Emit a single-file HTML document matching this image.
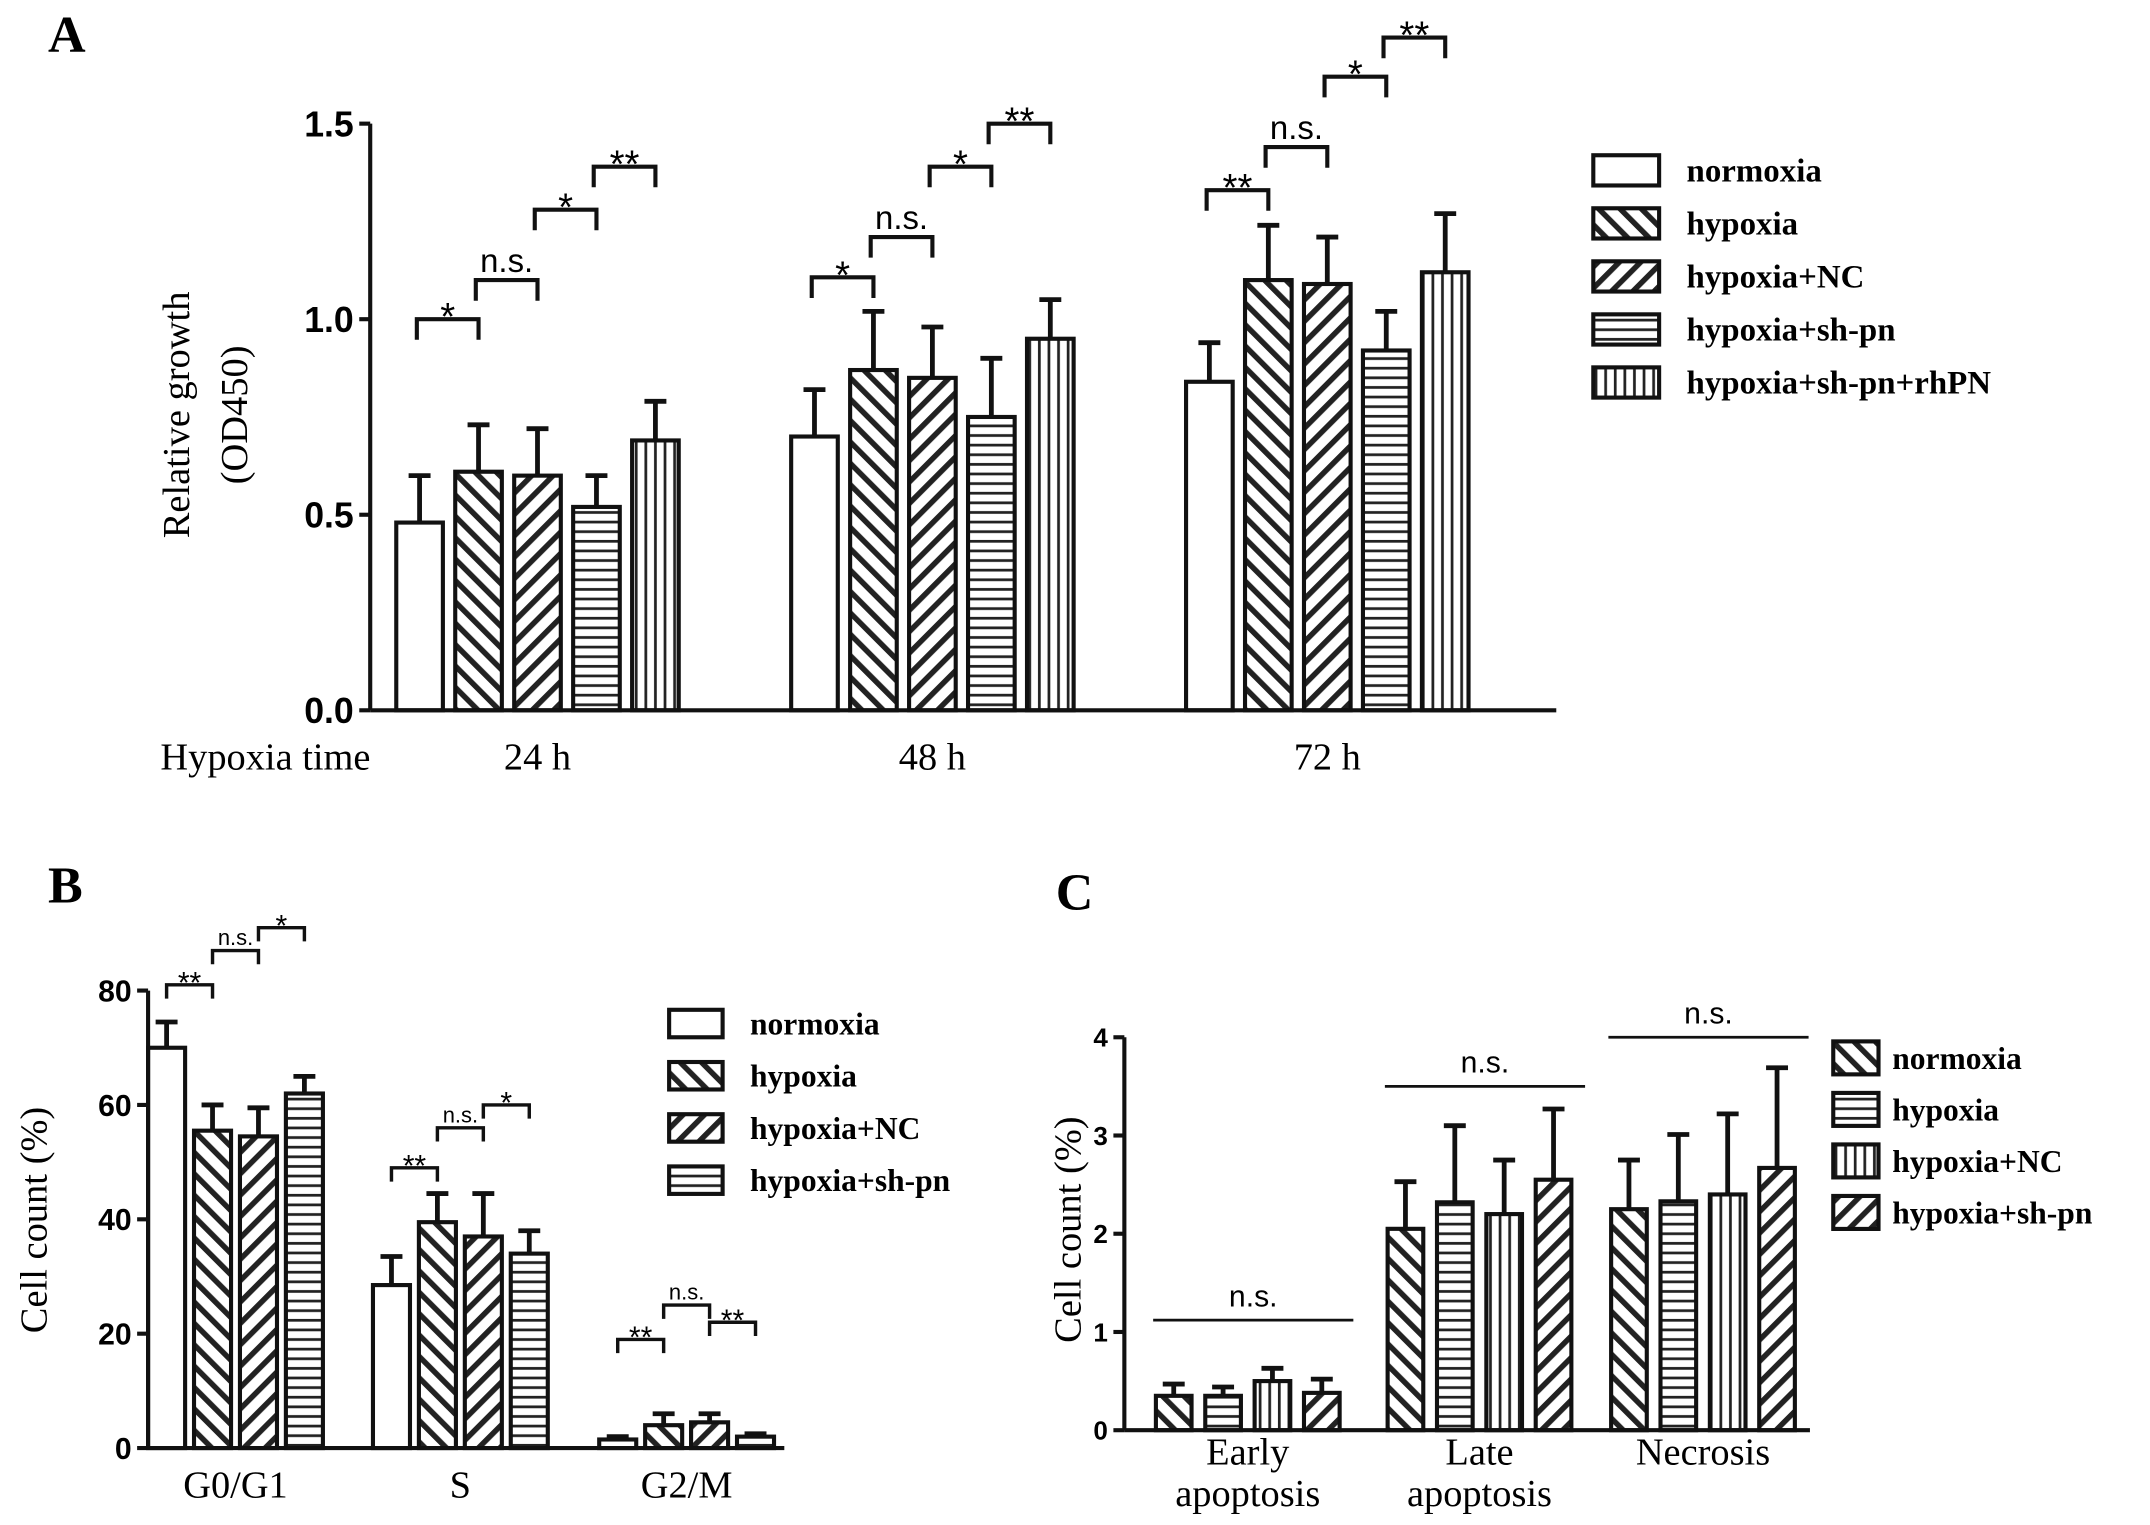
<!DOCTYPE html>
<html><head><meta charset="utf-8"><style>
html,body{margin:0;padding:0;background:#fff}
svg{display:block}
</style></head><body>
<svg id="fig" width="2150" height="1525" viewBox="0 0 1568 1110" preserveAspectRatio="none" xmlns="http://www.w3.org/2000/svg">
<defs>
<pattern id="pBack" patternUnits="userSpaceOnUse" width="11" height="11" patternTransform="rotate(-45)"><rect width="11" height="11" fill="#fff"/><line x1="2" y1="0" x2="2" y2="11" stroke="#222" stroke-width="4"/></pattern>
<pattern id="pFwd" patternUnits="userSpaceOnUse" width="11" height="11" patternTransform="rotate(45)"><rect width="11" height="11" fill="#fff"/><line x1="2" y1="0" x2="2" y2="11" stroke="#222" stroke-width="4"/></pattern>
<pattern id="pHor" patternUnits="userSpaceOnUse" width="8" height="7"><rect width="8" height="7" fill="#fff"/><line x1="0" y1="2" x2="8" y2="2" stroke="#222" stroke-width="2"/></pattern>
<pattern id="pVer" patternUnits="userSpaceOnUse" width="7" height="8"><rect width="7" height="8" fill="#fff"/><line x1="2" y1="0" x2="2" y2="8" stroke="#222" stroke-width="2"/></pattern>
</defs>
<g id="root"></g>
</svg>
<script>
// Panel A data
const aGroups = ["24 h","48 h","72 h"];
const aSeries = ["normoxia","hypoxia","hypoxia+NC","hypoxia+sh-pn","hypoxia+sh-pn+rhPN"];
const aMeans = [[0.48,0.61,0.60,0.52,0.69],[0.70,0.87,0.85,0.75,0.95],[0.84,1.10,1.09,0.92,1.12]];
const aErrTop = [[0.60,0.73,0.72,0.60,0.79],[0.82,1.02,0.98,0.90,1.05],[0.94,1.24,1.21,1.02,1.27]];
const aTicks = [0,0.5,1.0,1.5];
const aSig = [["*","n.s.","*","**"],["*","n.s.","*","**"],["**","n.s.","*","**"]];
const aSigLevel = [[1.00,1.10,1.28,1.39],[1.107,1.21,1.39,1.50],[1.33,1.44,1.62,1.72]];
// Panel B data
const bGroups = ["G0/G1","S","G2/M"];
const bSeries = ["normoxia","hypoxia","hypoxia+NC","hypoxia+sh-pn"];
const bMeans = [[70,55.5,54.5,62],[28.5,39.5,37,34],[1.5,4,4.5,2]];
const bErrTop = [[74.5,60,59.5,65],[33.5,44.5,44.5,38],[2,6,6,2.5]];
const bTicks = [0,20,40,60,80];
const bSig = [["**","n.s.","*"],["**","n.s.","*"],["**","n.s.","**"]];
const bSigLevel = [[81,87,91],[49,56,60],[19,25,22]];
// Panel C data
const cGroups = [["Early","apoptosis"],["Late","apoptosis"],["Necrosis"]];
const cSeries = ["normoxia","hypoxia","hypoxia+NC","hypoxia+sh-pn"];
const cMeans = [[0.35,0.35,0.50,0.38],[2.05,2.32,2.20,2.55],[2.25,2.33,2.40,2.67]];
const cErrTop = [[0.47,0.44,0.63,0.52],[2.53,3.10,2.75,3.27],[2.75,3.01,3.22,3.69]];
const cTicks = [0,1,2,3,4];
const cSigLevel = [1.12,3.5,4.0];

const NS="http://www.w3.org/2000/svg";
const root=document.getElementById('root');
function el(tag,attrs,parent){const e=document.createElementNS(NS,tag);for(const k in attrs)e.setAttribute(k,attrs[k]);(parent||root).appendChild(e);return e;}
function txt(s,attrs,parent){const t=el('text',attrs,parent);t.textContent=s;return t;}
const serif='"Liberation Serif", serif', sans='"Liberation Sans", sans-serif';
const fills={A:["#fff","url(#pBack)","url(#pFwd)","url(#pHor)","url(#pVer)"],B:["#fff","url(#pBack)","url(#pFwd)","url(#pHor)"],C:["url(#pBack)","url(#pHor)","url(#pVer)","url(#pFwd)"]};

function panel(cfg){
  const g=el('g',{});
  
  
  const y=v=>cfg.y0-(v/cfg.tmax)*(cfg.y0-cfg.ytop);
  cfg.means.forEach((grp,gi)=>{
    grp.forEach((v,si)=>{
      const x=cfg.gx[gi]+si*cfg.step;
      const cx=x+cfg.bw/2;
      const e=el('line',{x1:cx,x2:cx,y1:y(v),y2:y(cfg.err[gi][si]),stroke:'#111','stroke-width':3.5},g);
      
      
      const c=el('line',{x1:cx-8,x2:cx+8,y1:y(cfg.err[gi][si]),y2:y(cfg.err[gi][si]),stroke:'#111','stroke-width':3.5},g);
      
      
      const r=el('rect',{x:x,y:y(v),width:cfg.bw,height:cfg.y0-y(v),fill:cfg.fills[si],stroke:'#111','stroke-width':3},g);
      
      
    });
  });
  const ya=el('line',{x1:cfg.x0,x2:cfg.x0,y1:cfg.ytop,y2:cfg.y0,stroke:'#111','stroke-width':3},g);
  
  
  const xa=el('line',{x1:cfg.x0,x2:cfg.xend,y1:cfg.y0,y2:cfg.y0,stroke:'#111','stroke-width':3},g);
  
  
  cfg.ticks.forEach(t=>{
    el('line',{x1:cfg.x0-8,x2:cfg.x0,y1:y(t),y2:y(t),stroke:'#111','stroke-width':3},g);
    const tl=txt(cfg.tfmt(t),{x:cfg.x0-12,y:y(t)+cfg.tfs*0.36,'text-anchor':'end','font-family':sans,'font-weight':'bold','font-size':cfg.tfs},g);
    
    
  });
  return {g,y};
}

// Panel A
(function(){
  const cfg={name:'panel-a',x0:270,xend:1135,y0:517,ytop:90,tmax:1.5,gx:[289,577,865],step:43,bw:34,fills:fills.A,means:aMeans,err:aErrTop,ticks:aTicks,tfs:26,tfmt:t=>t.toFixed(1)};
  const {g,y}=panel(cfg);
  aSig.forEach((row,gi)=>row.forEach((s,k)=>{
    const x1=cfg.gx[gi]+k*cfg.step+cfg.bw/2-2, x2=x1+cfg.step+2, yy=y(aSigLevel[gi][k]);
    const b=el('path',{d:`M${x1} ${yy+15}V${yy}H${x2}V${yy+15}`,fill:'none',stroke:'#111','stroke-width':3},g);
    
    
    const isNs=s==='n.s.';
    txt(s,{x:(x1+x2)/2,y:isNs?yy-6:yy+8,'text-anchor':'middle','font-family':sans,'font-size':isNs?24:28},g);
  }));
  aGroups.forEach((s,gi)=>{const t=txt(s,{x:cfg.gx[gi]+2*cfg.step+cfg.bw/2,y:560,'text-anchor':'middle','font-family':serif,'font-size':28},g);});
  txt('Hypoxia time',{x:117,y:560,'font-family':serif,'font-size':28},g);
  const yl=txt('Relative growth',{x:0,y:0,'text-anchor':'middle','font-family':serif,'font-size':28,transform:'translate(138,302) rotate(-90)'},g);
  
  txt('(OD450)',{x:0,y:0,'text-anchor':'middle','font-family':serif,'font-size':28,transform:'translate(180,302) rotate(-90)'},g);
  txt('A',{x:35,y:38,'font-family':serif,'font-weight':'bold','font-size':38},g);
  aSeries.forEach((s,i)=>{
    const yy=124+i*38.6;
    const r=el('rect',{x:1162,y:yy-11,width:48,height:22,fill:fills.A[i],stroke:'#111','stroke-width':3},g);
    
    const t=txt(s,{x:1230,y:yy+8,'font-family':serif,'font-weight':'bold','font-size':24},g);
    
  });
})();

// Panel B
(function(){
  const cfg={name:'panel-b',x0:108,xend:572,y0:1054,ytop:721,tmax:80,gx:[108,272,437],step:33.5,bw:27,fills:fills.B,means:bMeans,err:bErrTop,ticks:bTicks,tfs:22,tfmt:t=>String(t)};
  const {g,y}=panel(cfg);
  bSig.forEach((row,gi)=>row.forEach((s,k)=>{
    const x1=cfg.gx[gi]+k*cfg.step+cfg.bw/2, x2=x1+cfg.step, yy=y(bSigLevel[gi][k]);
    el('path',{d:`M${x1} ${yy+10}V${yy}H${x2}V${yy+10}`,fill:'none',stroke:'#111','stroke-width':2.5},g);
    const isNs=s==='n.s.';
    txt(s,{x:(x1+x2)/2,y:isNs?yy-4:yy+6,'text-anchor':'middle','font-family':sans,'font-size':isNs?16:22},g);
  }));
  bGroups.forEach((s,gi)=>{const t=txt(s,{x:cfg.gx[gi]+1.5*cfg.step+cfg.bw/2,y:1090,'text-anchor':'middle','font-family':serif,'font-size':28},g);});
  const yl=txt('Cell count (%)',{x:0,y:0,'text-anchor':'middle','font-family':serif,'font-size':28,transform:'translate(34,888) rotate(-90)'},g);
  
  txt('B',{x:35,y:657,'font-family':serif,'font-weight':'bold','font-size':38},g);
  bSeries.forEach((s,i)=>{
    const yy=745+i*38;
    const r=el('rect',{x:488,y:yy-10,width:39,height:20,fill:fills.B[i],stroke:'#111','stroke-width':3},g);
    
    const t=txt(s,{x:547,y:yy+8,'font-family':serif,'font-weight':'bold','font-size':23},g);
    
  });
})();

// Panel C
(function(){
  const cfg={name:'panel-c',x0:820,xend:1320,y0:1041,ytop:755,tmax:4,gx:[843,1012,1175],step:36,bw:26,fills:fills.C,means:cMeans,err:cErrTop,ticks:cTicks,tfs:19,tfmt:t=>String(t)};
  const {g,y}=panel(cfg);
  cGroups.forEach((lines,gi)=>{
    const x1=cfg.gx[gi]-2, x2=cfg.gx[gi]+3*cfg.step+cfg.bw+10, yy=y(cSigLevel[gi]);
    el('line',{x1:x1,x2:x2,y1:yy,y2:yy,stroke:'#111','stroke-width':2},g);
    txt('n.s.',{x:(x1+x2)/2,y:yy-10,'text-anchor':'middle','font-family':sans,'font-size':22},g);
    const cx=cfg.gx[gi]+1.5*cfg.step+cfg.bw/2;
    lines.forEach((s,li)=>{const t=txt(s,{x:cx,y:1066+li*30,'text-anchor':'middle','font-family':serif,'font-size':28},g);});
  });
  const yl=txt('Cell count (%)',{x:0,y:0,'text-anchor':'middle','font-family':serif,'font-size':28,transform:'translate(788,895) rotate(-90)'},g);
  
  txt('C',{x:770,y:662,'font-family':serif,'font-weight':'bold','font-size':38},g);
  cSeries.forEach((s,i)=>{
    const yy=770+i*37.5;
    const r=el('rect',{x:1337,y:yy-12,width:33,height:24,fill:fills.C[i],stroke:'#111','stroke-width':3},g);
    
    const t=txt(s,{x:1380,y:yy+8,'font-family':serif,'font-weight':'bold','font-size':23},g);
    
  });
})();
</script>
</body></html>
